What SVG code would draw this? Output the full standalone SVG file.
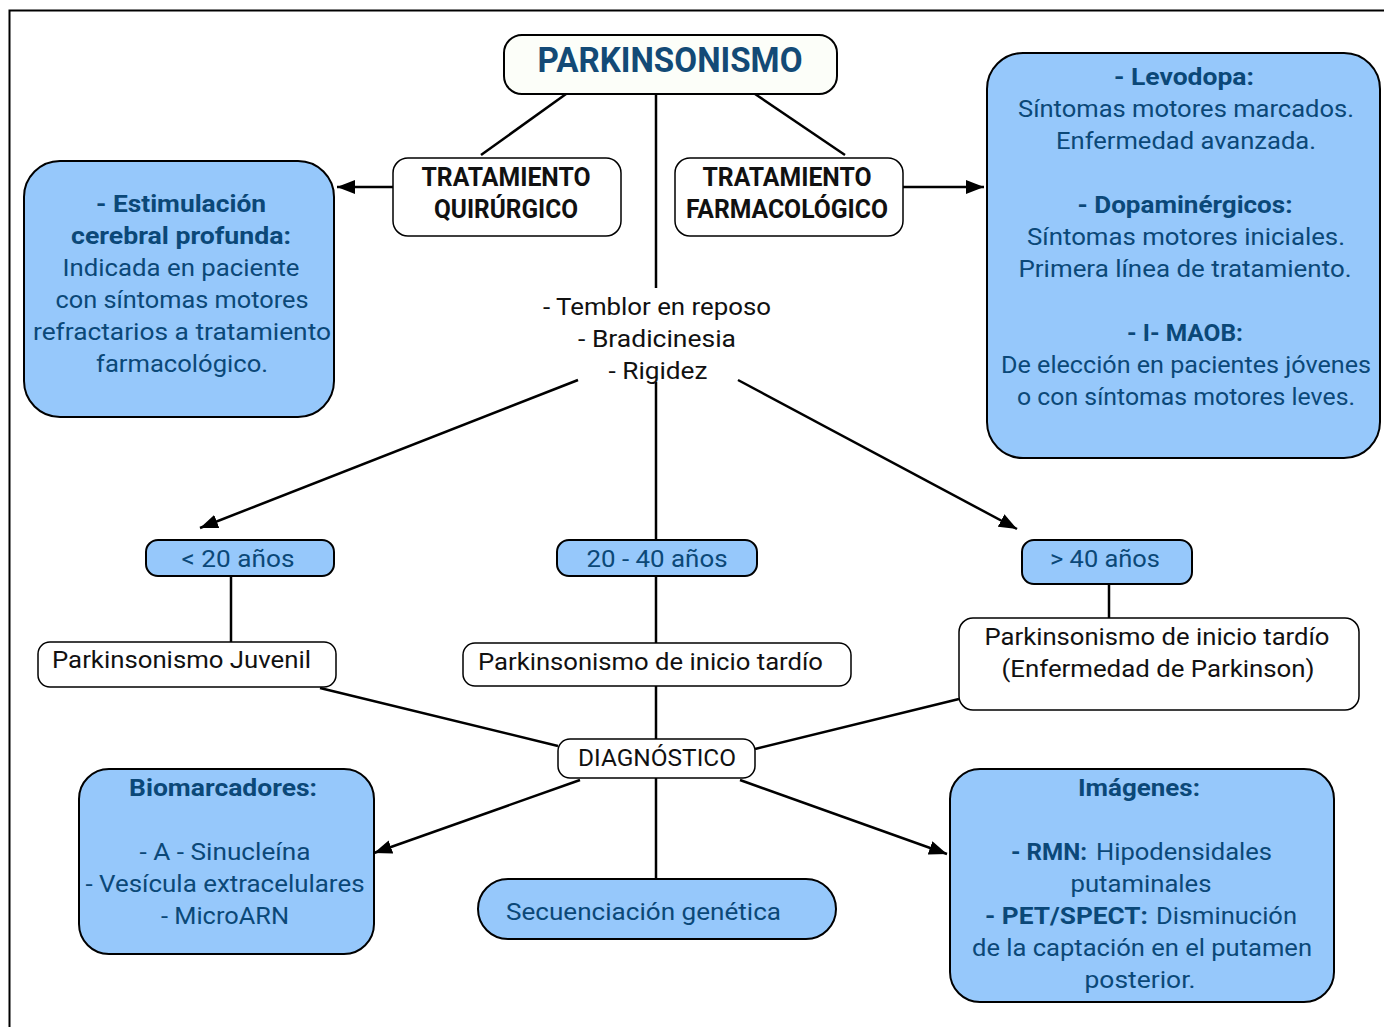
<svg xmlns="http://www.w3.org/2000/svg" width="1384" height="1027" viewBox="0 0 1384 1027">
<defs>
<marker id="ah" markerUnits="userSpaceOnUse" markerWidth="20" markerHeight="14" refX="18" refY="7" orient="auto">
<path d="M0,0 L18,7 L0,14 Z" fill="#000"/>
</marker>
<style>
text{font-family:Roboto,"Liberation Sans",sans-serif;font-size:24px;text-anchor:middle}
.bl{fill:#0b4878}
.bk{fill:#111}
.b{font-weight:bold}
.st{text-anchor:start}
.wbox{fill:#fff;stroke:#000;stroke-width:1.5}
.bbox{fill:#96c8fb;stroke:#000;stroke-width:2}
.ln{stroke:#000;stroke-width:2.5;fill:none}
</style>
</defs>
<rect x="9.5" y="10.5" width="1400" height="1100" fill="#fff" stroke="#000" stroke-width="2"/>

<g id="connectors">
<line class="ln" x1="566" y1="94" x2="481" y2="155"/>
<line class="ln" x1="755" y1="94" x2="845" y2="155"/>
<line class="ln" x1="656" y1="94" x2="656" y2="288"/>
<line class="ln" x1="393" y1="187" x2="337" y2="187" marker-end="url(#ah)"/>
<line class="ln" x1="903" y1="187" x2="984" y2="187" marker-end="url(#ah)"/>
<line class="ln" x1="656" y1="382" x2="656" y2="540"/>
<line class="ln" x1="578" y1="380" x2="200" y2="528" marker-end="url(#ah)"/>
<line class="ln" x1="738" y1="380" x2="1017" y2="529" marker-end="url(#ah)"/>
<line class="ln" x1="231" y1="576" x2="231" y2="642"/>
<line class="ln" x1="656" y1="576" x2="656" y2="643"/>
<line class="ln" x1="1109" y1="584" x2="1109" y2="618"/>
<line class="ln" x1="656" y1="686" x2="656" y2="739"/>
<line class="ln" x1="320" y1="688" x2="558" y2="746"/>
<line class="ln" x1="959" y1="699" x2="755" y2="749"/>
<line class="ln" x1="580" y1="780" x2="374" y2="853" marker-end="url(#ah)"/>
<line class="ln" x1="740" y1="780" x2="947" y2="854" marker-end="url(#ah)"/>
<line class="ln" x1="656" y1="778" x2="656" y2="879"/>
</g>

<g id="parkinsonismo">
<rect x="504" y="35" width="333" height="59" rx="18" fill="#fcfef9" stroke="#000" stroke-width="2"/>
<text x="670" y="72" class="b" style="font-size:35px;fill:#134a76" textLength="265" lengthAdjust="spacingAndGlyphs">PARKINSONISMO</text>
</g>

<g id="quirurgico">
<rect class="wbox" x="393" y="158" width="228" height="78" rx="15"/>
<text x="506" y="186" class="bk b" style="font-size:26px" textLength="169" lengthAdjust="spacingAndGlyphs">TRATAMIENTO</text>
<text x="506" y="218" class="bk b" style="font-size:26px" textLength="144" lengthAdjust="spacingAndGlyphs">QUIRÚRGICO</text>
</g>

<g id="farmacologico">
<rect class="wbox" x="675" y="158" width="228" height="78" rx="15"/>
<text x="787" y="186" class="bk b" style="font-size:26px" textLength="169" lengthAdjust="spacingAndGlyphs">TRATAMIENTO</text>
<text x="787" y="218" class="bk b" style="font-size:26px" textLength="202" lengthAdjust="spacingAndGlyphs">FARMACOLÓGICO</text>
</g>

<g id="estimulacion">
<rect class="bbox" x="24" y="161" width="310" height="256" rx="36"/>
<text x="181" y="212" class="bl b" textLength="170" lengthAdjust="spacingAndGlyphs">- Estimulación</text>
<text x="181" y="244" class="bl b" textLength="220" lengthAdjust="spacingAndGlyphs">cerebral profunda:</text>
<text x="181" y="276" class="bl" textLength="237" lengthAdjust="spacingAndGlyphs">Indicada en paciente</text>
<text x="182" y="308" class="bl" textLength="253" lengthAdjust="spacingAndGlyphs">con síntomas motores</text>
<text x="182" y="340" class="bl" textLength="298" lengthAdjust="spacingAndGlyphs">refractarios a tratamiento</text>
<text x="182" y="372" class="bl" textLength="172" lengthAdjust="spacingAndGlyphs">farmacológico.</text>
</g>

<g id="farmacos">
<rect class="bbox" x="987" y="53" width="393" height="405" rx="36"/>
<text x="1184" y="85" class="bl b" textLength="140" lengthAdjust="spacingAndGlyphs">- Levodopa:</text>
<text x="1186" y="117" class="bl" textLength="336" lengthAdjust="spacingAndGlyphs">Síntomas motores marcados.</text>
<text x="1186" y="149" class="bl" textLength="260" lengthAdjust="spacingAndGlyphs">Enfermedad avanzada.</text>
<text x="1185" y="213" class="bl b" textLength="215" lengthAdjust="spacingAndGlyphs">- Dopaminérgicos:</text>
<text x="1186" y="245" class="bl" textLength="318" lengthAdjust="spacingAndGlyphs">Síntomas motores iniciales.</text>
<text x="1185" y="277" class="bl" textLength="333" lengthAdjust="spacingAndGlyphs">Primera línea de tratamiento.</text>
<text x="1185" y="341" class="bl b" textLength="116" lengthAdjust="spacingAndGlyphs">- I- MAOB:</text>
<text x="1186" y="373" class="bl" textLength="370" lengthAdjust="spacingAndGlyphs">De elección en pacientes jóvenes</text>
<text x="1186" y="405" class="bl" textLength="338" lengthAdjust="spacingAndGlyphs">o con síntomas motores leves.</text>
</g>

<g id="sintomas">
<text x="657" y="315" class="bk" textLength="228" lengthAdjust="spacingAndGlyphs">- Temblor en reposo</text>
<text x="657" y="347" class="bk" textLength="158" lengthAdjust="spacingAndGlyphs">- Bradicinesia</text>
<text x="658" y="379" class="bk" textLength="99" lengthAdjust="spacingAndGlyphs">- Rigidez</text>
</g>

<g id="menor20">
<rect class="bbox" x="146" y="540" width="188" height="36" rx="12"/>
<text x="238" y="567" class="bl" textLength="113" lengthAdjust="spacingAndGlyphs">&lt; 20  años</text>
</g>

<g id="entre20y40">
<rect class="bbox" x="557" y="540" width="200" height="36" rx="12"/>
<text x="657" y="567" class="bl" textLength="141" lengthAdjust="spacingAndGlyphs">20 - 40 años</text>
</g>

<g id="mayor40">
<rect class="bbox" x="1022" y="540" width="170" height="44" rx="12"/>
<text x="1105" y="567" class="bl" textLength="110" lengthAdjust="spacingAndGlyphs">&gt; 40 años</text>
</g>

<g id="juvenil">
<rect class="wbox" x="38" y="642" width="298" height="45" rx="12"/>
<text x="52" y="668" class="bk st" textLength="259" lengthAdjust="spacingAndGlyphs">Parkinsonismo Juvenil</text>
</g>

<g id="tardio">
<rect class="wbox" x="463" y="643" width="388" height="43" rx="12"/>
<text x="478" y="670" class="bk st" textLength="345" lengthAdjust="spacingAndGlyphs">Parkinsonismo de inicio tardío</text>
</g>

<g id="parkinson">
<rect class="wbox" x="959" y="618" width="400" height="92" rx="14"/>
<text x="1157" y="645" class="bk" textLength="345" lengthAdjust="spacingAndGlyphs">Parkinsonismo de inicio tardío</text>
<text x="1158" y="677" class="bk" textLength="313" lengthAdjust="spacingAndGlyphs">(Enfermedad de Parkinson)</text>
</g>

<g id="diagnostico">
<rect class="wbox" x="558" y="739" width="197" height="39" rx="12"/>
<text x="657" y="766" class="bk" textLength="158" lengthAdjust="spacingAndGlyphs">DIAGNÓSTICO</text>
</g>

<g id="biomarcadores">
<rect class="bbox" x="79" y="769" width="295" height="185" rx="30"/>
<text x="223" y="796" class="bl b" textLength="188" lengthAdjust="spacingAndGlyphs">Biomarcadores:</text>
<text x="225" y="860" class="bl" textLength="171" lengthAdjust="spacingAndGlyphs">- A - Sinucleína</text>
<text x="225" y="892" class="bl" textLength="279" lengthAdjust="spacingAndGlyphs">- Vesícula extracelulares</text>
<text x="225" y="924" class="bl" textLength="128" lengthAdjust="spacingAndGlyphs">- MicroARN</text>
</g>

<g id="secuenciacion">
<rect class="bbox" x="478" y="879" width="358" height="60" rx="30"/>
<text x="506" y="920" class="bl st" textLength="275" lengthAdjust="spacingAndGlyphs">Secuenciación genética</text>
</g>

<g id="imagenes">
<rect class="bbox" x="950" y="769" width="384" height="233" rx="30"/>
<text x="1139" y="796" class="bl b" textLength="122" lengthAdjust="spacingAndGlyphs">Imágenes:</text>
<text x="1011" y="860" class="bl b st" textLength="76" lengthAdjust="spacingAndGlyphs">- RMN:</text>
<text x="1096" y="860" class="bl st" textLength="176" lengthAdjust="spacingAndGlyphs">Hipodensidales</text>
<text x="1141" y="892" class="bl" textLength="141" lengthAdjust="spacingAndGlyphs">putaminales</text>
<text x="985" y="924" class="bl b st" textLength="163" lengthAdjust="spacingAndGlyphs">- PET/SPECT:</text>
<text x="1156" y="924" class="bl st" textLength="141" lengthAdjust="spacingAndGlyphs">Disminución</text>
<text x="1142" y="956" class="bl" textLength="340" lengthAdjust="spacingAndGlyphs">de la captación en el putamen</text>
<text x="1140" y="988" class="bl" textLength="111" lengthAdjust="spacingAndGlyphs">posterior.</text>
</g>
</svg>
